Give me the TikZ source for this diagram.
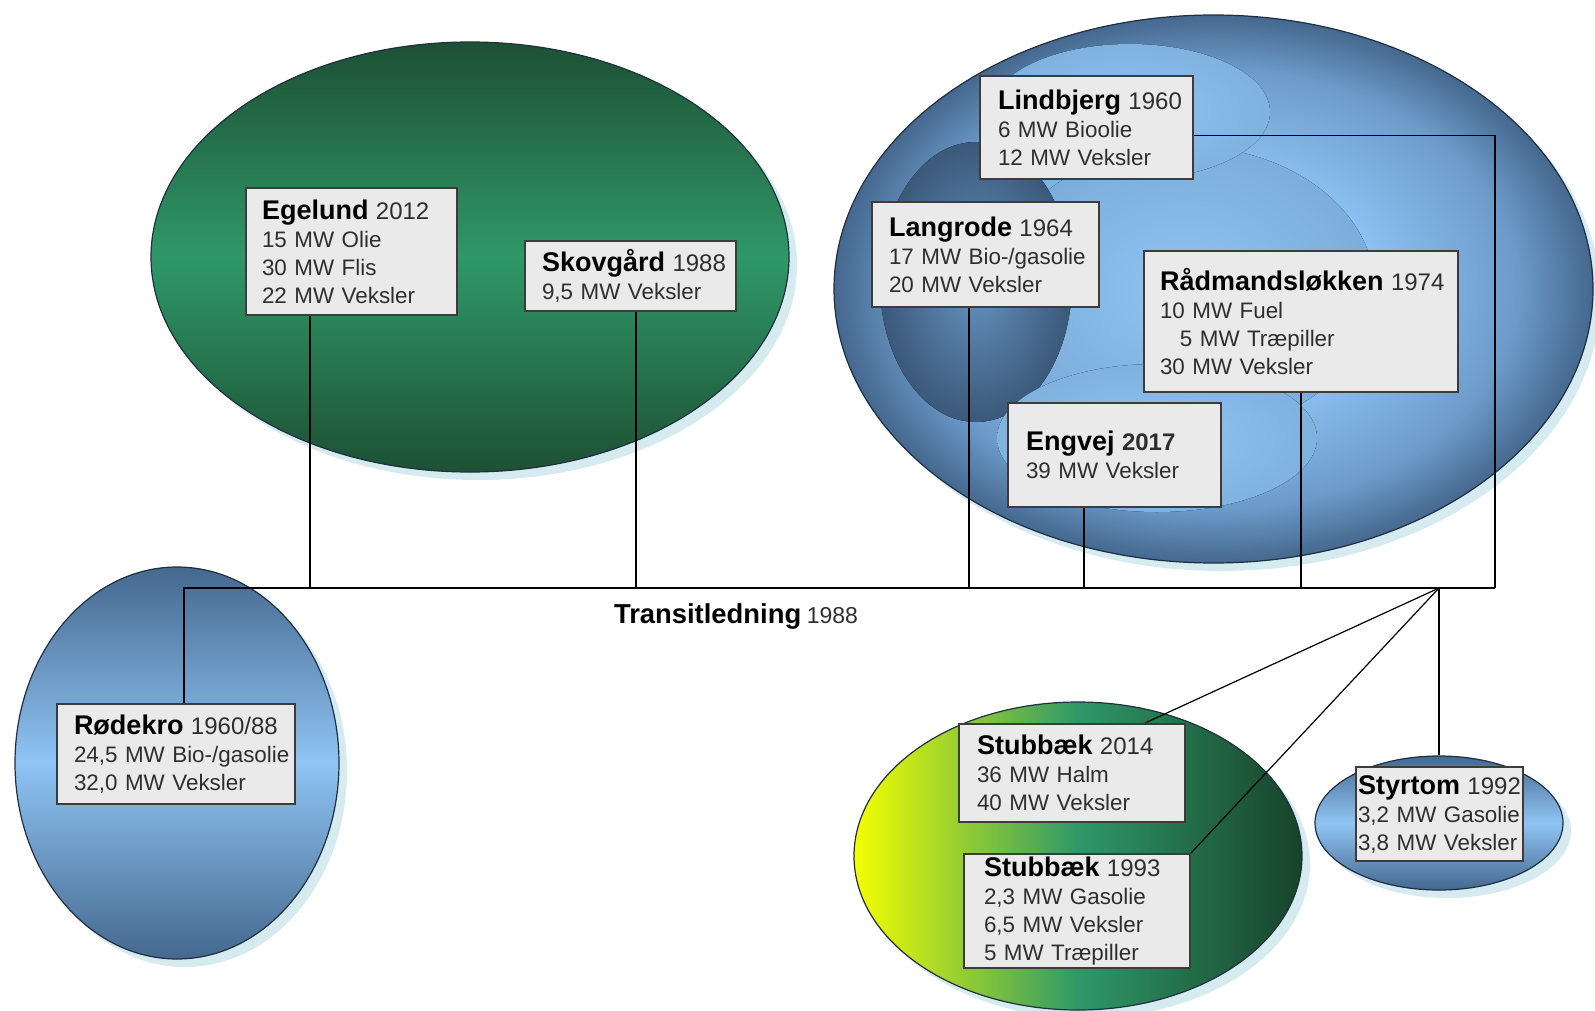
\documentclass[tikz,border=0pt]{standalone}
\usepackage{fontspec}
\setmainfont{Liberation Sans}
\usepackage{tikz}
\usetikzlibrary{shapes.geometric,calc}
\definecolor{boxgray}{HTML}{EAEAEA}
\definecolor{boxedge}{HTML}{3C3C3C}
\definecolor{textgray}{HTML}{2E2E2E}
\definecolor{halocyan}{HTML}{D5EBEF}
\definecolor{greendark}{HTML}{1D5034}
\definecolor{greenmid}{HTML}{2F9868}
\definecolor{bluedark}{HTML}{45688E}
\definecolor{bluelight}{HTML}{8FC4F4}
\definecolor{bluemid}{HTML}{6C9BCA}
\definecolor{blueedge}{HTML}{1F2F42}
\definecolor{strawyellow}{HTML}{F4FF00}
\definecolor{strawdark}{HTML}{17422A}
\pgfdeclareradialshading{townshade}{\pgfpoint{0bp}{0bp}}{%
  color(0bp)=(bluelight); color(10bp)=(bluelight); color(20bp)=(bluemid);
  color(25bp)=(bluedark); color(50bp)=(bluedark)}
\tikzset{
  pipe/.style={draw=black, line width=0.6pt},
  plantbox/.style={draw=boxedge, line width=1pt, fill=boxgray, align=left,
                   inner xsep=0pt, inner ysep=0pt, text=textgray,
                   font=\fontsize{11.2}{14}\selectfont},
  pad/.style={execute at begin node={\leftskip=#1}},
  area/.style={ellipse, inner sep=0pt, draw=blueedge, line width=0.6pt},
  greenarea/.style={area, top color=greendark, bottom color=greendark, middle color=greenmid},
  bluearea/.style={area, top color=bluedark, bottom color=bluedark, middle color=bluelight},
  strawarea/.style={area, left color=strawyellow, right color=strawdark, middle color=greenmid},
  halo/.style={fill=halocyan}
}
\newcommand{\plant}[2]{{\color{black}\fontsize{13.5}{14}\selectfont\bfseries #1}~{\fontsize{12}{14}\selectfont #2}}

\begin{document}
\begin{tikzpicture}[x=0.5pt, y=-0.5pt]
  \useasboundingbox (0,0) rectangle (1595,1011);

  % halos behind the areas
  \fill[halo] (478,265) ellipse [x radius=159.5pt, y radius=107.5pt];
  \fill[halo] (1221,297) ellipse [x radius=189.75pt, y radius=137pt];
  \fill[halo] (185,771) ellipse [x radius=81pt, y radius=98pt];
  \fill[halo] (1086,864) ellipse [x radius=112pt, y radius=77pt];
  \fill[halo] (1447,831) ellipse [x radius=62pt, y radius=33.5pt];

  % areas
  \node[greenarea, minimum width=319pt, minimum height=215pt] (egelundarea) at (470,257) {};
  \node[area, shading=townshade, minimum width=379.5pt, minimum height=274pt] (byarea) at (1213.5,289) {};
  \node[bluearea, minimum width=162pt, minimum height=196pt] (rodekroarea) at (177,763) {};
  \node[strawarea, minimum width=224pt, minimum height=154pt] (stubbaekarea) at (1078,856) {};
  \node[bluearea, minimum width=124pt, minimum height=67pt] (styrtomarea) at (1439,823) {};

  % blobs inside the town area
  \begin{scope}
    \clip (1213.5,289) ellipse [x radius=189.75pt, y radius=137pt];
    \fill[inner color=bluelight, outer color=bluelight!75!bluedark] (1185,290) ellipse [x radius=95pt, y radius=72pt];
    \fill[inner color=bluemid!85!bluedark, outer color=bluedark!85!black] (976,282) ellipse [x radius=48pt, y radius=70pt];
    \fill[inner color=bluelight, outer color=bluelight!80!bluedark] (1130,112) ellipse [x radius=70pt, y radius=34pt];
    \fill[inner color=bluelight, outer color=bluelight!80!bluedark] (1157,438) ellipse [x radius=80pt, y radius=37pt];
  \end{scope}

  % plants
  \node[plantbox, pad=8pt, text width=105.5pt, minimum height=63.5pt] (egelund) at (351.5,251.5)
    {\plant{Egelund}{2012}\\15 MW Olie\\30 MW Flis\\22 MW Veksler};
  \node[plantbox, pad=8.5pt, text width=105.5pt, minimum height=35pt] (skovgaard) at (630.5,276)
    {\plant{Skovgård}{1988}\\9,5 MW Veksler};
  \node[plantbox, pad=9pt, text width=106.5pt, minimum height=51.5pt] (lindbjerg) at (1086.5,127.5)
    {\plant{Lindbjerg}{1960}\\6 MW\ Bioolie\\12 MW Veksler};
  \node[plantbox, pad=8.5pt, text width=113.5pt, minimum height=52.5pt] (langrode) at (985.5,254.5)
    {\plant{Langrode}{1964}\\17 MW Bio-/gasolie\\20 MW Veksler};
  \node[plantbox, pad=8pt, text width=157pt, minimum height=70.5pt] (raadmand) at (1301,321.5)
    {\plant{Rådmandsløkken}{1974}\\10 MW Fuel\\\hphantom{1}\ 5 MW Træpiller\\30 MW Veksler};
  \node[plantbox, pad=9pt, text width=106.5pt, minimum height=52pt] (engvej) at (1114.5,455)
    {\plant{Engvej}{\bfseries 2017}\\39 MW Veksler};
  \node[plantbox, pad=8.5pt, text width=119pt, minimum height=50pt] (rodekro) at (176,754)
    {\plant{Rødekro}{1960/88}\\24,5 MW Bio-/gasolie\\32,0 MW Veksler};
  \node[plantbox, pad=9pt, text width=113pt, minimum height=49pt] (stubbaekny) at (1072,773)
    {\plant{Stubbæk}{2014}\\36 MW Halm\\40 MW Veksler};
  \node[plantbox, pad=10pt, text width=113pt, minimum height=57pt] (stubbaekgl) at (1077,911)
    {\plant{Stubbæk}{1993}\\2,3 MW\ Gasolie\\6,5 MW\ Veksler\\5 MW\ Træpiller};
  \node[plantbox, pad=1pt, text width=83.5pt, minimum height=47pt] (styrtom) at (1439.5,814)
    {\plant{Styrtom}{1992}\\3,2 MW Gasolie\\3,8 MW Veksler};

  \node[text=textgray] (transit) at (736,616)
    {{\color{black}\fontsize{13.7}{16}\selectfont\bfseries Transitledning}~{\fontsize{11.5}{14}\selectfont 1988}};

  % transit line and taps
  \coordinate (rotap) at (184,588);
  \coordinate (egtap) at (310,588);
  \coordinate (sktap) at (636,588);
  \coordinate (latap) at (969,588);
  \coordinate (entap) at (1084,588);
  \coordinate (ratap) at (1301,588);
  \coordinate (hub) at (1439,588);
  \coordinate (busend) at (1495,588);

  \draw[pipe] (rodekro.north -| rotap) |- (busend);
  \draw[pipe] ([yshift=-4pt]lindbjerg.east) -| (busend);
  \draw[pipe] (egelund.south -| egtap) -- (egtap);
  \draw[pipe] (skovgaard.south -| sktap) -- (sktap);
  \draw[pipe] (langrode.south -| latap) -- (latap);
  \draw[pipe] (engvej.south -| entap) -- (entap);
  \draw[pipe] (raadmand.south -| ratap) -- (ratap);
  \draw[pipe] (hub) -- (styrtomarea.north);
  \draw[pipe] (hub) -- ([xshift=-20.5pt]stubbaekny.north east);
  \draw[pipe] (hub) -- (stubbaekgl.north east);
\end{tikzpicture}
\end{document}
